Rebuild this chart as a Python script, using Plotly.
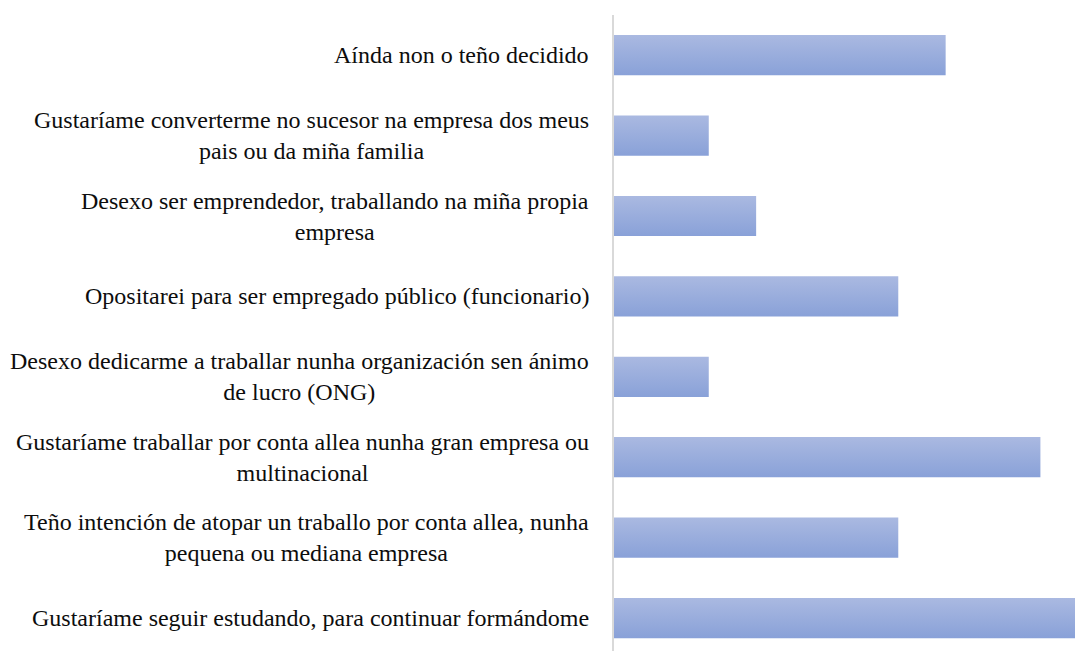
import plotly.graph_objects as go

# answer options, top to bottom as drawn
categories = [
    "Aínda non o teño decidido",
    "Gustaríame converterme no sucesor na empresa dos meus<br>pais ou da miña familia",
    "Desexo ser emprendedor, traballando na miña propia<br>empresa",
    "Opositarei para ser empregado público (funcionario)",
    "Desexo dedicarme a traballar nunha organización sen ánimo<br>de lucro (ONG)",
    "Gustaríame traballar por conta allea nunha gran empresa ou<br>multinacional",
    "Teño intención de atopar un traballo por conta allea, nunha<br>pequena ou mediana empresa",
    "Gustaríame seguir estudando, para continuar formándome",
]
values = [7, 2, 3, 6, 2, 9, 6, 10]

HALF = 0.25  # half bar thickness, in category units

fig = go.Figure()

# bars drawn as filled shapes so each one can carry a vertical gradient
for i, (cat, v) in enumerate(zip(categories, values)):
    fig.add_trace(
        go.Scatter(
            x=[0, v, v, 0, 0],
            y=[i - HALF, i - HALF, i + HALF, i + HALF, i - HALF],
            mode="lines",
            line=dict(width=0),
            fill="toself",
            fillgradient=dict(
                type="vertical",
                colorscale=[[0, "#89a1d8"], [1, "#aab9e1"]],
            ),
            hoveron="fills",
            text=cat.replace("<br>", " "),
            hoverinfo="text",
            showlegend=False,
        )
    )

# category labels: centred multi-line blocks ending just left of the axis
for i, cat in enumerate(categories):
    fig.add_annotation(
        x=0, xref="paper", xanchor="right", xshift=-23,
        y=i, yref="y", yanchor="middle",
        text=cat, align="center", showarrow=False,
        font=dict(family="Liberation Serif", size=24, color="#0d0d0d"),
    )

fig.update_layout(
    width=1075,
    height=651,
    margin=dict(l=614, r=0, t=15, b=0),
    plot_bgcolor="white",
    paper_bgcolor="white",
    showlegend=False,
)
fig.update_xaxes(range=[0, 9.73], visible=False, showgrid=False, zeroline=False)
fig.update_yaxes(
    range=[7.41, -0.5],
    showticklabels=False,
    showgrid=False,
    zeroline=False,
    showline=True,
    linecolor="#d9d9d9",
    linewidth=2,
    ticks="",
)

# drop the default body margin so the figure sits flush in the window
fig.write_html(
    "out.html",
    config={"displayModeBar": False},
    post_script="document.body.style.margin = '0'; document.body.style.overflow = 'hidden';",
)
